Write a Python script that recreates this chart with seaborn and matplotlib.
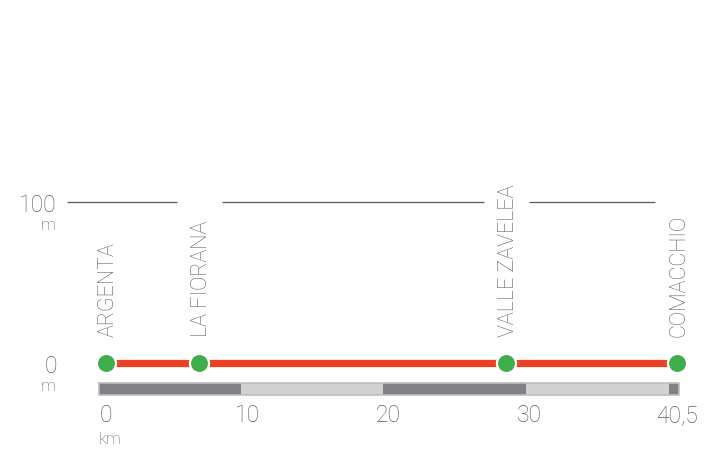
import pandas as pd
import matplotlib
matplotlib.use('Agg')
import matplotlib.pyplot as plt
import seaborn as sns

# dati del percorso
tappe = ['ARGENTA', 'LA FIORANA', 'VALLE ZAVELEA', 'COMACCHIO']
km_tappe = [0, 6.6, 28.4, 40.5]
quota_tappe = [0, 0, 0, 0]
tick_km = [0, 10, 20, 30, 40.5]
tick_label = ['0', '10', '20', '30', '40,5']
quote_y = [0, 100]
# segmenti della barra chilometrica (inizio, fine)
barra_inizio = [-0.5, 9.55, 19.65, 29.8, 39.9]
barra_fine = [9.55, 19.65, 29.8, 39.9, 40.65]

df = pd.DataFrame({'km': km_tappe, 'quota': quota_tappe, 'tappa': tappe})

sns.set_style('white')
plt.rcParams['font.family'] = ['Roboto', 'DejaVu Sans']

grigio = '#5f6062'
fig = plt.figure(figsize=(7.17, 4.55), dpi=100)
ax = fig.add_axes([0, 0, 1, 1])
ax.set_xlim(-7.52, 43.33)
ax.set_ylim(-57.1, 225.5)
ax.axis('off')

# linea dei 100 m con interruzioni dove ci sono le etichette
inizio, fine = -2.8, 38.9
tagli = [k for k in km_tappe[1:3]]
pezzi = [inizio]
for k in tagli:
    pezzi += [k - 1.6, k + 1.6]
pezzi.append(fine)
for a, b in zip(pezzi[::2], pezzi[1::2]):
    ax.hlines(100, a, b, color='#58595b', lw=0.9)

# barra chilometrica
for i, (a, b) in enumerate(zip(barra_inizio, barra_fine)):
    col = '#808085' if i % 2 == 0 else '#d1d2d4'
    ax.fill_between([a, b], -19.9, -12.4, color=col, lw=0)
ax.plot([barra_inizio[0], barra_fine[-1], barra_fine[-1], barra_inizio[0], barra_inizio[0]],
        [-12.4, -12.4, -19.9, -19.9, -12.4], color='#bcbec0', lw=1.2)

# profilo altimetrico
sns.lineplot(x='km', y='quota', data=df, ax=ax, color='#ee4023', lw=5.2,
             solid_capstyle='butt', zorder=3)
sns.scatterplot(x='km', y='quota', data=df, ax=ax, color='#3dae49', s=190,
                edgecolor='white', linewidth=1.6, zorder=4)

# nomi delle tappe
for k, t in zip(km_tappe, tappe):
    ax.text(k + 0.15, 16, t, rotation=90, ha='center', va='bottom',
            fontsize=15.5, color=grigio, fontweight='light')

# etichette asse x
for k, l in zip(tick_km, tick_label):
    ax.text(k, -32.5, l, ha='center', va='center', fontsize=16.5, color=grigio,
            fontweight='light')
ax.text(-0.5, -47.5, 'km', ha='left', va='center', fontsize=12, color=grigio,
        fontweight='light')

# etichette asse y
for q in quote_y:
    ax.text(-3.5, q - 2, str(q), ha='right', va='center', fontsize=16.5,
            color=grigio, fontweight='light')
    ax.text(-4.1, q - 14.5, 'm', ha='center', va='center', fontsize=12,
            color=grigio, fontweight='light')

fig.savefig('out.png', dpi=100)
